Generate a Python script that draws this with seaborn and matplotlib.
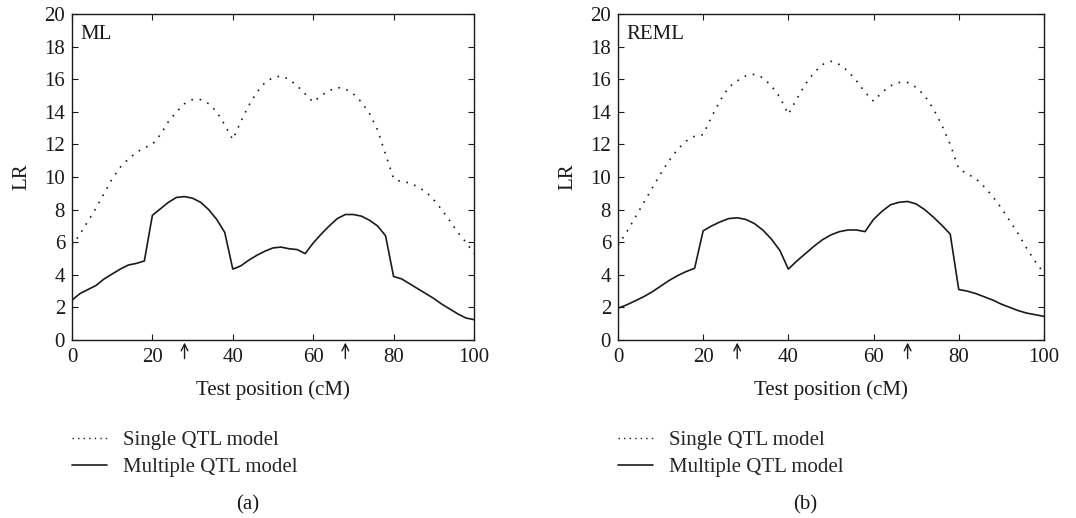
import pandas as pd
import matplotlib
matplotlib.use("Agg")
import matplotlib.pyplot as plt
import seaborn as sns
from matplotlib.lines import Line2D

# test positions (cM)
positions = list(range(0, 101, 2))

# LR profiles
ml_single = [5.8, 6.5, 7.3, 8.1, 9.0, 9.9, 10.6, 11.1, 11.5, 11.8,
             12.0, 12.6, 13.4, 14.0, 14.5, 14.75, 14.75, 14.5, 14.0, 13.2,
             12.3, 13.4, 14.4, 15.2, 15.8, 16.1, 16.2, 16.0, 15.6, 15.1,
             14.6, 15.0, 15.3, 15.5, 15.4, 15.1, 14.6, 13.9, 12.9, 11.4,
             9.9, 9.7, 9.65, 9.4, 9.1, 8.6, 8.0, 7.3, 6.6, 6.0, 5.3]
ml_multiple = [2.45, 2.85, 3.1, 3.35, 3.75, 4.05, 4.35, 4.6, 4.7, 4.85,
               7.65, 8.05, 8.45, 8.75, 8.8, 8.7, 8.45, 8.0, 7.4, 6.6,
               4.35, 4.55, 4.9, 5.2, 5.45, 5.65, 5.7, 5.6, 5.55, 5.3,
               5.95, 6.5, 7.0, 7.45, 7.7, 7.7, 7.6, 7.35, 7.0, 6.4,
               3.9, 3.75, 3.45, 3.15, 2.85, 2.55, 2.2, 1.9, 1.6, 1.35, 1.25]
reml_single = [5.8, 6.6, 7.5, 8.4, 9.3, 10.2, 11.0, 11.7, 12.2, 12.5,
               12.6, 13.7, 14.7, 15.5, 15.9, 16.2, 16.3, 16.1, 15.6, 14.9,
               13.85, 14.8, 15.7, 16.4, 16.9, 17.1, 16.9, 16.5, 15.9, 15.2,
               14.65, 15.2, 15.6, 15.8, 15.8, 15.5, 15.0, 14.2, 13.2, 12.0,
               10.5, 10.2, 9.9, 9.4, 8.8, 8.1, 7.3, 6.5, 5.6, 4.8, 4.1]
reml_multiple = [1.95, 2.15, 2.4, 2.65, 2.95, 3.3, 3.65, 3.95, 4.2, 4.4,
                 6.7, 7.0, 7.25, 7.45, 7.5, 7.4, 7.15, 6.75, 6.2, 5.5,
                 4.35, 4.85, 5.3, 5.75, 6.15, 6.45, 6.65, 6.75, 6.75, 6.65,
                 7.4, 7.9, 8.3, 8.45, 8.5, 8.35, 8.0, 7.55, 7.05, 6.5,
                 3.1, 3.0, 2.85, 2.65, 2.45, 2.2, 2.0, 1.8, 1.65, 1.55, 1.45]

qtl_positions = [28, 68]
models = ["Single QTL model", "Multiple QTL model"]

sns.set_theme(style="ticks")
plt.rcParams["font.family"] = ["Liberation Serif", "DejaVu Serif"]

ink = "#1a1a1a"
dashes = {models[0]: (1, 4), models[1]: ""}
fs = 15

fig = plt.figure(figsize=(10.76, 5.18), dpi=100)
ax_a = fig.add_axes([0.0669, 0.3436, 0.3736, 0.6293])
ax_b = fig.add_axes([0.5743, 0.3436, 0.3959, 0.6293])

panels = [
    (ax_a, "ML", ml_single, ml_multiple, "(a)", 0.230),
    (ax_b, "REML", reml_single, reml_multiple, "(b)", 0.748),
]

for ax, method, single, multiple, caption, cap_x in panels:
    df = pd.DataFrame({
        "pos": positions * 2,
        "LR": single + multiple,
        "model": [models[0]] * len(positions) + [models[1]] * len(positions),
    })
    sns.lineplot(data=df, x="pos", y="LR", style="model", dashes=dashes,
                 color=ink, linewidth=1.2, legend=False, ax=ax)

    ax.set_xlim(0, 100)
    ax.set_ylim(0, 20)
    ax.set_xticks(range(0, 101, 20))
    ax.set_yticks(range(0, 21, 2))
    ax.tick_params(direction="in", length=4, width=0.8, top=True, right=True,
                   labelsize=fs, colors=ink)
    ax.tick_params(axis="x", pad=6)
    ax.tick_params(axis="y", pad=5)
    for s in ax.spines.values():
        s.set_color(ink)
        s.set_linewidth(1.0)
    ax.set_xlabel("Test position (cM)", fontsize=fs, color=ink, labelpad=9)
    ax.set_ylabel("LR", fontsize=fs, color=ink, labelpad=9)

    ax.text(0.02, 0.965, method, transform=ax.transAxes, fontsize=fs,
            color=ink, va="top", ha="left")

    # arrows marking the true QTL positions
    for q in qtl_positions:
        ax.annotate("", xy=(q, -0.008), xycoords=("data", "axes fraction"),
                    xytext=(q, -0.057), textcoords=("data", "axes fraction"),
                    arrowprops=dict(arrowstyle="->", color=ink, lw=1.0,
                                    shrinkA=0, shrinkB=0,
                                    mutation_scale=12))

    handles = [Line2D([], [], color=ink, lw=1.0, linestyle=(0, (1, 3))),
               Line2D([], [], color=ink, lw=1.2)]
    ax.legend(handles, models, loc="upper left",
              bbox_to_anchor=(0.0, -0.278), frameon=False, fontsize=fs,
              handlelength=1.7, handletextpad=0.75, labelspacing=0.35,
              borderaxespad=0, borderpad=0)

    fig.text(cap_x, 0.006, caption, fontsize=fs, color=ink, ha="center",
             va="bottom")

fig.savefig("out.png", dpi=100)
